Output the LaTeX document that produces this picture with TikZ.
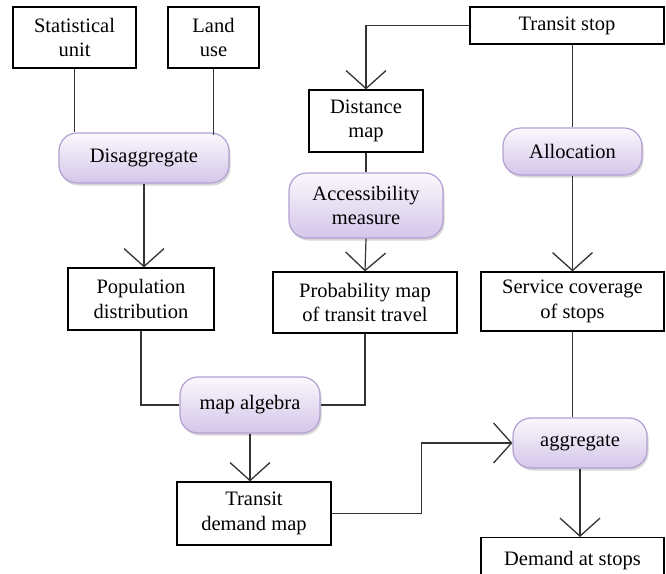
\documentclass[tikz,border=0pt]{standalone}
\usepackage{fontspec}
\setmainfont{Liberation Serif}
\usetikzlibrary{shapes}
\usetikzlibrary{positioning}
\usetikzlibrary{arrows.meta}
\usetikzlibrary{shadows}
\definecolor{lavtop}{RGB}{250,248,252}
\definecolor{lavbot}{RGB}{212,198,234}
\definecolor{lavline}{RGB}{178,160,210}
\tikzset{
    databox/.style = {rectangle, draw=black, line width=1.2pt, align=center, inner sep=2pt},
    opnode/.style = {rectangle, rounded corners=18pt, draw=lavline, line width=1.2pt, align=center,
                     top color=lavtop, bottom color=lavbot,
                     drop shadow={shadow xshift=1.5pt, shadow yshift=-2.5pt, fill=black!30}},
    link/.style = {line width=1.2pt, draw=black!80},
    flow/.style = {-{Straight Barb[length=18pt,width=40pt,line width=1.3pt]}, line width=1.2pt, draw=black!80}
}

\begin{document}
\begin{tikzpicture}[x=1pt, y=-1pt, font=\fontsize{20.5}{24.5}\selectfont]
  \useasboundingbox[fill=white] (0,0) rectangle (666,573);

  % inputs
  \node[databox, minimum width=123, minimum height=61] (stat) at (74.5,37.5) {Statistical\\unit};
  \node[databox, minimum width=91, minimum height=61] (land) at (213.5,37.5) {Land\\use};
  \node[databox, minimum width=194, minimum height=37] (stop) at (567,25.5) {Transit stop};

  % operations
  \node[opnode, minimum width=170, minimum height=50] (disagg) at (144,158) {Disaggregate};
  \node[opnode, minimum width=154, minimum height=65] (access) at (366,205.5) {Accessibility\\measure};
  \node[opnode, minimum width=139, minimum height=47] (alloc) at (572.5,151.5) {Allocation};
  \node[opnode, minimum width=140, minimum height=56] (mapalg) at (250,405) {map algebra};
  \node[opnode, minimum width=134, minimum height=50] (aggr) at (580,443) {aggregate};

  % intermediate maps
  \node[databox, minimum width=114, minimum height=62] (dist) at (366,121) {Distance\\map};
  \node[databox, minimum width=146, minimum height=62] (pop) at (141,299) {Population\\distribution};
  \node[databox, minimum width=184, minimum height=61] (prob) at (365,302.5) {Probability map\\of transit travel};
  \node[databox, minimum width=183, minimum height=59] (serv) at (572.5,301.5) {Service coverage\\of stops};
  \node[databox, minimum width=154, minimum height=63] (demand) at (254,513.5) {Transit\\demand map};
  \node[databox, minimum width=183, minimum height=45, anchor=north] (atstops) at (572.5,537) {Demand at stops};

  % connectors
  \draw[link] (stat.south) -- (stat.south |- disagg.north);
  \draw[link] (land.south) -- ([yshift=-3pt]land.south |- disagg.north);
  \draw[flow] (disagg.south) -- (disagg.south |- pop.north);
  \draw[flow] (stop.west) -| (dist.north);
  \draw[link] (alloc.north |- stop.south) -- (alloc.north);
  \draw[link] (dist.south) -- (access.north);
  \draw[flow] (access.south) -- (prob.north);
  \draw[flow] (alloc.south) -- (serv.north);
  \draw[link] (pop.south) |- (mapalg.west);
  \draw[link] (prob.south) |- (mapalg.east);
  \draw[flow] (mapalg.south) -- (mapalg.south |- demand.north);
  \draw[flow] (demand.east) -- ++(90,0) |- (aggr.west);
  \draw[link] (serv.south) -- (serv.south |- aggr.north);
  \draw[flow] (aggr.south) -- (aggr.south |- atstops.north);
\end{tikzpicture}
\end{document}
